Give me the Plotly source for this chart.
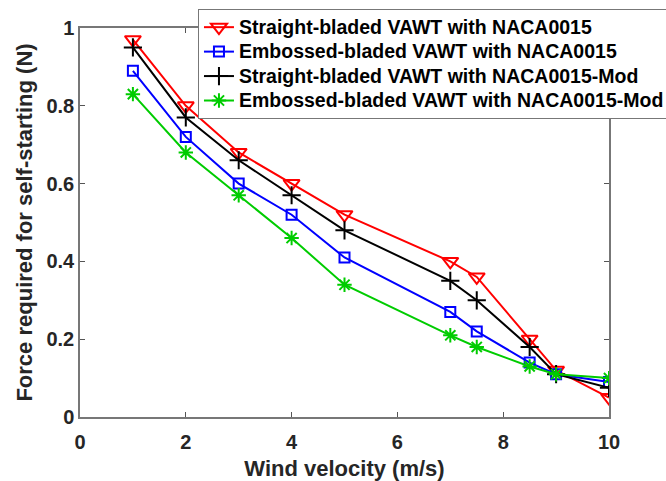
import plotly.graph_objects as go

x_vals = [1, 2, 3, 4, 5, 7, 7.5, 8.5, 9, 10]
straight_naca = [0.97, 0.80, 0.68, 0.60, 0.52, 0.40, 0.36, 0.20, 0.12, 0.05]
embossed_naca = [0.89, 0.72, 0.60, 0.52, 0.41, 0.27, 0.22, 0.14, 0.11, 0.09]
straight_mod = [0.95, 0.77, 0.66, 0.57, 0.48, 0.35, 0.30, 0.18, 0.11, 0.075]
embossed_mod = [0.83, 0.68, 0.57, 0.46, 0.34, 0.21, 0.18, 0.13, 0.11, 0.10]
names = ["Straight-bladed VAWT with NACA0015",
         "Embossed-bladed VAWT with NACA0015",
         "Straight-bladed VAWT with NACA0015-Mod",
         "Embossed-bladed VAWT with NACA0015-Mod"]
x_ticks = [0, 2, 4, 6, 8, 10]
y_ticks = [0, 0.2, 0.4, 0.6, 0.8, 1]
y_ticktext = ["0", "0.2", "0.4", "0.6", "0.8", "1"]

series = [
    (straight_naca, "#ff0000", "triangle-down-open", 14),
    (embossed_naca, "#0000ff", "square-open", 10),
    (straight_mod, "#000000", "cross-thin-open", 13),
    (embossed_mod, "#00cc00", "asterisk-open", 12),
]

fig = go.Figure()
for (vals, col, sym, sz), nm in zip(series, names):
    fig.add_trace(go.Scatter(
        x=x_vals, y=vals, mode="lines+markers",
        name='<span style="font-size:19.5px">' + nm + '</span>',
        line=dict(color=col, width=2),
        marker=dict(symbol=sym, size=sz, color=col, line=dict(color=col, width=2)),
    ))

font = "Liberation Sans, Arial, sans-serif"
fig.update_layout(
    width=666, height=481,
    margin=dict(l=80, r=57, t=28, b=64, autoexpand=False),
    paper_bgcolor="white", plot_bgcolor="white",
    font=dict(family=font, color="#262626"),
    showlegend=True,
    legend=dict(
        x=0.223, y=1.049, xanchor="left", yanchor="top",
        bgcolor="white", bordercolor="#777777", borderwidth=1,
        font=dict(family=font, size=16.5, color="black", weight="bold"),
        tracegroupgap=0, itemwidth=30,
    ),
    xaxis=dict(
        range=[0, 10], tickvals=x_ticks, ticks="inside", ticklen=5,
        tickcolor="#555", showline=True, linecolor="#777", linewidth=1.5, mirror="ticks",
        showgrid=False, zeroline=False, automargin=False, ticklabelstandoff=6,
        tickfont=dict(size=20, family=font, weight="bold", color="#262626"),
        title=dict(text="Wind velocity (m/s)", standoff=12,
                   font=dict(size=22, family=font, weight="bold", color="#262626")),
    ),
    yaxis=dict(
        range=[0, 1], tickvals=y_ticks, ticktext=y_ticktext,
        ticks="inside", ticklen=5,
        tickcolor="#555", showline=True, linecolor="#777", linewidth=1.5, mirror="ticks",
        showgrid=False, zeroline=False, automargin=False,
        tickfont=dict(size=20, family=font, weight="bold", color="#262626"),
        title=dict(text="Force required for self-starting (N)", standoff=8,
                   font=dict(size=22, family=font, weight="bold", color="#262626")),
    ),
)
fig.write_html("out.html", config={"displayModeBar": False},
               post_script="document.body.style.margin='0';")
